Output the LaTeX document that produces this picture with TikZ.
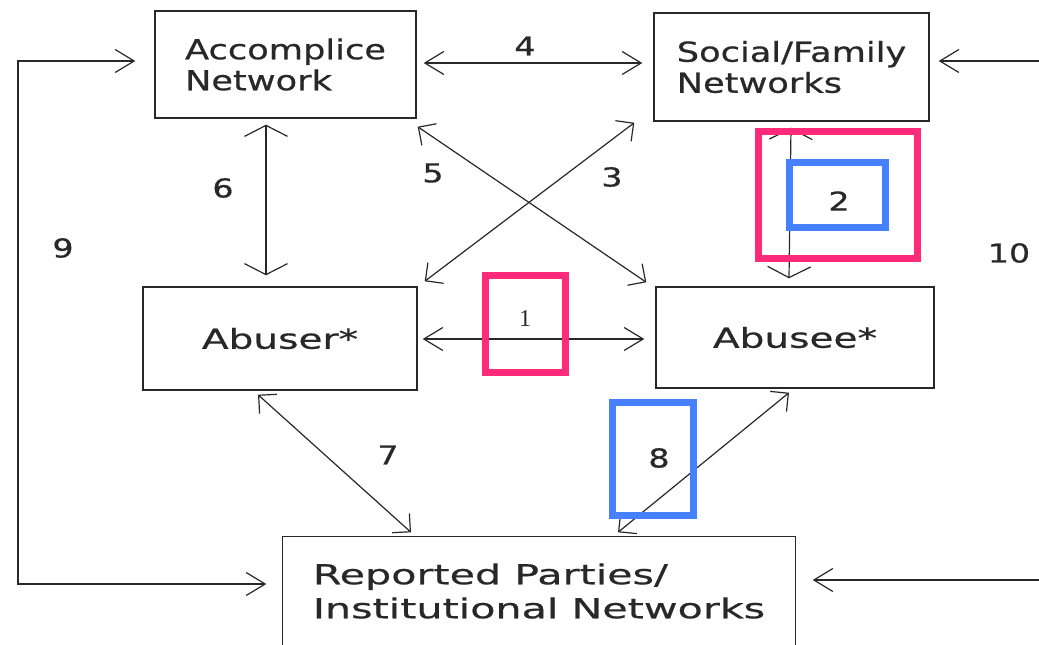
\documentclass[tikz,border=0pt]{standalone}
\usepackage{fontspec}
\newfontfamily\comic[FakeStretch=1.28,FakeBold=0.6]{DejaVu Sans}
\newfontfamily\comicm[FakeStretch=1.42,FakeBold=0.6]{DejaVu Sans}
\newfontfamily\comicw[FakeStretch=1.5,FakeBold=0.6]{DejaVu Sans}
\newfontfamily\serifd{Liberation Serif}
\usetikzlibrary{arrows.meta,calc}
\definecolor{ink}{RGB}{40,40,40}
\definecolor{pinkH}{RGB}{255,42,122}
\definecolor{blueH}{RGB}{70,128,255}
\tikzset{
  tH/.tip={Straight Barb[length=19pt,width=23pt]},
  tV/.tip={Straight Barb[length=11pt,width=43pt]},
  tD/.tip={Straight Barb[length=13pt,width=26pt]},
}
\begin{document}
\begin{tikzpicture}[x=1pt,y=-1pt,
  box/.style={draw=ink, line width=1.4pt, inner sep=0pt, align=left,
    font=\comic\fontsize{27.5}{31}\selectfont, text=ink},
  conn/.style={draw=ink, line width=1.2pt},
  lab/.style={inner sep=0pt, font=\comic\fontsize{26}{26}\selectfont, text=ink},
  hilite/.style={line width=7pt},
]
\useasboundingbox (0,0) rectangle (1039,645);
\fill[white] (0,0) rectangle (1039,645);

% boxes
\node[box, minimum width=261pt, minimum height=107pt] (acc) at (285.5,64.5) {Accomplice\\Network};
\node[box, minimum width=275pt, minimum height=108pt] (soc) at (791.5,67) {Social/Family\\Networks};
\node[box, minimum width=274pt, minimum height=103pt, font=\comicm\fontsize{27.5}{31}\selectfont] (abr) at (280,338.5) {Abuser*};
\node[box, minimum width=278pt, minimum height=101pt, font=\comicm\fontsize{27.5}{31}\selectfont] (abe) at (795,337.5) {Abusee*};
\node[box, draw=none, minimum width=512pt, minimum height=108pt,
  font=\comicw\fontsize{27.5}{34}\selectfont] (rep) at (539,591) {Reported Parties/\\Institutional Networks};
\draw[ink, line width=1.4pt] (rep.south west) -- (rep.north west) -- (rep.north east) -- (rep.south east);

% free ends and corner
\coordinate (c9) at (18,584);
\coordinate (r1) at (1039,61);
\coordinate (r2) at (1039,580);

% connectors
\draw[conn, tH-tH] ($(acc.east)+(7,-1.5)$) -- ($(soc.west)+(-11,-4)$);
\draw[conn, tH-tH] ($(abr.east)+(5,0.5)$) -- ($(abe.west)+(-11,1.5)$);
\draw[conn, tV-tV] ($(acc.south)+(-19.5,6)$) -- ($(abr.north)+(-14,-11)$);
\draw[conn, tV-tV] ($(soc.south)+(-0.5,6)$) -- ($(abe.north)+(-6,-8)$);
\draw[conn, tD-tD] ($(acc.south east)+(1,8)$) -- ($(abe.north west)+(-9,-4)$);
\draw[conn, tD-tD] ($(abr.north east)+(7,-5)$) -- ($(soc.south west)+(-19,1)$);
\draw[conn, tD-tD] ($(abr.south)+(-22,4)$) -- ($(rep.north)+(-128,-4)$);
\draw[conn, tD-tD] ($(abe.south)+(-6,4)$) -- ($(rep.north)+(79,-4)$);
\draw[conn, tH-tH] ($(acc.west)+(-19,-3.5)$) -| (c9) -- ($(rep.west)+(-16,-7)$);
\draw[conn, -tH] (r1) -- ($(soc.east)+(9,-6)$);
\draw[conn, -tH] (r2) -- ($(rep.east)+(17,-11)$);

% labels
\node[lab] (l4) at (525,46) {4};
\node[lab] (l5) at (433,173) {5};
\node[lab] (l3) at (612,177) {3};
\node[lab] (l6) at (223,188) {6};
\node[lab] (l9) at (63,248) {9};
\node[lab] (l10) at (1009,253) {10};
\node[lab] (l2) at (839,201) {2};
\node[lab] (l7) at (388,455) {7};
\node[lab] (l8) at (659,458) {8};
\node[inner sep=0pt, font=\serifd\fontsize{24}{24}\selectfont, text=ink] (l1) at (525,318.5) {1};

% highlight frames
\draw[hilite, pinkH] (485.5,275.5) rectangle (565.5,372.5);
\draw[hilite, pinkH] (758.5,131.5) rectangle (917.5,258.5);
\draw[hilite, blueH] (789.5,162.5) rectangle (885.5,227.5);
\draw[hilite, blueH] (612.5,402.5) rectangle (693.5,515.5);
\end{tikzpicture}
\end{document}
